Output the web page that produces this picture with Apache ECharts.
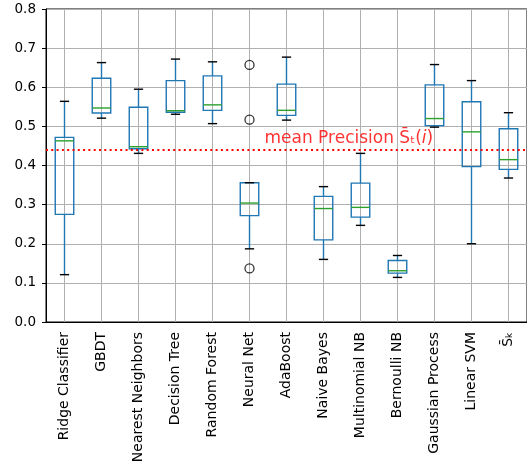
<!DOCTYPE html>
<html>
<head>
<meta charset="utf-8">
<script src="https://cdn.jsdelivr.net/npm/echarts@6/dist/echarts.min.js"></script>
<style>
  html, body { margin: 0; padding: 0; background: #fff; }
  #chart { width: 527px; height: 471px; }
</style>
</head>
<body>
<div id="chart"></div>
<script>
// Classifier names along the x axis
const categories = [
  'Ridge Classifier', 'GBDT', 'Nearest Neighbors', 'Decision Tree',
  'Random Forest', 'Neural Net', 'AdaBoost', 'Naive Bayes',
  'Multinomial NB', 'Bernoulli NB', 'Gaussian Process', 'Linear SVM',
  'S\u0304\u2096'
];

// Box statistics per classifier (precision)
const whiskerLow  = [0.121, 0.521, 0.431, 0.531, 0.507, 0.187, 0.516, 0.160, 0.247, 0.114, 0.498, 0.200, 0.368];
const quartile1   = [0.275, 0.534, 0.443, 0.536, 0.541, 0.272, 0.528, 0.210, 0.268, 0.125, 0.502, 0.397, 0.390];
const medians     = [0.463, 0.547, 0.448, 0.540, 0.555, 0.304, 0.541, 0.290, 0.293, 0.131, 0.520, 0.486, 0.415];
const quartile3   = [0.472, 0.623, 0.549, 0.617, 0.629, 0.356, 0.608, 0.321, 0.355, 0.157, 0.606, 0.563, 0.494];
const whiskerHigh = [0.564, 0.663, 0.595, 0.672, 0.665, 0.356, 0.677, 0.346, 0.431, 0.170, 0.658, 0.617, 0.535];

// Fliers: [category index, value]
const outliers = [[5, 0.657], [5, 0.517], [5, 0.137]];

// Mean precision reference line
const meanPrecision = 0.443;

const yTicks = [0, 0.1, 0.2, 0.3, 0.4, 0.5, 0.6, 0.7, 0.8];

const BOX_COLOR = '#1f77b4';
const MEDIAN_COLOR = '#2ca02c';
const CAP_COLOR = '#000000';
const FONT = 'DejaVu Sans';

const boxData = categories.map((_, i) =>
  [i, whiskerLow[i], quartile1[i], medians[i], quartile3[i], whiskerHigh[i]]);

function renderBox(params, api) {
  const i = api.value(0);
  const band = api.size([1, 0])[0];
  const half = band * 0.25;
  const capHalf = band * 0.125;
  const pLow = api.coord([i, api.value(1)]);
  const pQ1 = api.coord([i, api.value(2)]);
  const pMed = api.coord([i, api.value(3)]);
  const pQ3 = api.coord([i, api.value(4)]);
  const pHigh = api.coord([i, api.value(5)]);
  const cx = pMed[0];
  const lw = 1.4;
  const line = (x1, y1, x2, y2, color) => ({
    type: 'line',
    shape: { x1, y1, x2, y2 },
    style: { stroke: color, lineWidth: lw }
  });
  return {
    type: 'group',
    children: [
      line(cx, pQ3[1], cx, pHigh[1], BOX_COLOR),
      line(cx, pQ1[1], cx, pLow[1], BOX_COLOR),
      {
        type: 'rect',
        shape: { x: cx - half, y: pQ3[1], width: half * 2, height: pQ1[1] - pQ3[1] },
        style: { fill: 'none', stroke: BOX_COLOR, lineWidth: lw }
      },
      line(cx - capHalf, pHigh[1], cx + capHalf, pHigh[1], CAP_COLOR),
      line(cx - capHalf, pLow[1], cx + capHalf, pLow[1], CAP_COLOR),
      line(cx - half, pMed[1], cx + half, pMed[1], MEDIAN_COLOR)
    ]
  };
}

const chart = echarts.init(document.getElementById('chart'), null, { renderer: 'canvas' });

chart.setOption({
  animation: false,
  backgroundColor: '#ffffff',
  textStyle: { fontFamily: FONT },
  grid: {
    left: 46, top: 9, width: 481, bottom: 149,
    show: true, borderColor: '#000', borderWidth: 1, backgroundColor: 'transparent'
  },
  xAxis: {
    type: 'category',
    data: categories,
    boundaryGap: true,
    axisLine: { lineStyle: { color: '#000', width: 1 } },
    axisTick: { alignWithLabel: true, length: 4, lineStyle: { color: '#000' } },
    splitLine: { show: true, alignWithLabel: true, lineStyle: { color: '#b0b0b0', width: 1 } },
    axisLabel: {
      rotate: 90, interval: 0, fontSize: 14, color: '#000', margin: 10, fontFamily: FONT
    }
  },
  yAxis: {
    type: 'value',
    min: 0, max: 0.8, interval: 0.1,
    axisLine: { show: true, lineStyle: { color: '#000', width: 1 } },
    axisTick: { show: true, length: 4, lineStyle: { color: '#000' } },
    splitLine: { show: true, lineStyle: { color: '#b0b0b0', width: 1 } },
    axisLabel: {
      fontSize: 13.5, color: '#000', margin: 10, fontFamily: FONT,
      formatter: v => {
        const t = yTicks.find(k => Math.abs(k - v) < 1e-9);
        return (t !== undefined ? t : v).toFixed(1);
      }
    }
  },
  series: [
    {
      name: 'precision',
      type: 'custom',
      data: boxData,
      encode: { x: 0, y: [1, 2, 3, 4, 5] },
      renderItem: renderBox,
      z: 3,
      markLine: {
        silent: true,
        symbol: 'none',
        label: { show: false },
        lineStyle: { color: '#ff0000', width: 2, type: [2, 3.3], cap: 'butt' },
        data: [{ yAxis: meanPrecision }]
      }
    },
    {
      name: 'outliers',
      type: 'scatter',
      data: outliers,
      symbol: 'circle',
      symbolSize: 9,
      itemStyle: { color: 'rgba(0,0,0,0)', borderColor: '#000', borderWidth: 1.3 },
      z: 4
    },
    {
      name: 'meanLabel',
      type: 'scatter',
      data: [[5, meanPrecision]],
      symbolSize: 0,
      silent: true,
      z: 5,
      label: {
        show: true,
        position: 'right',
        distance: 0,
        offset: [15, -10],
        fontFamily: FONT,
        fontSize: 17,
        color: '#ff0000',
        formatter: () => 'mean Precision S\u0304\u209c({it|i})',
        rich: {
          it: { fontStyle: 'italic', fontSize: 17, color: '#ff0000', fontFamily: FONT }
        }
      }
    }
  ]
});
</script>
</body>
</html>
